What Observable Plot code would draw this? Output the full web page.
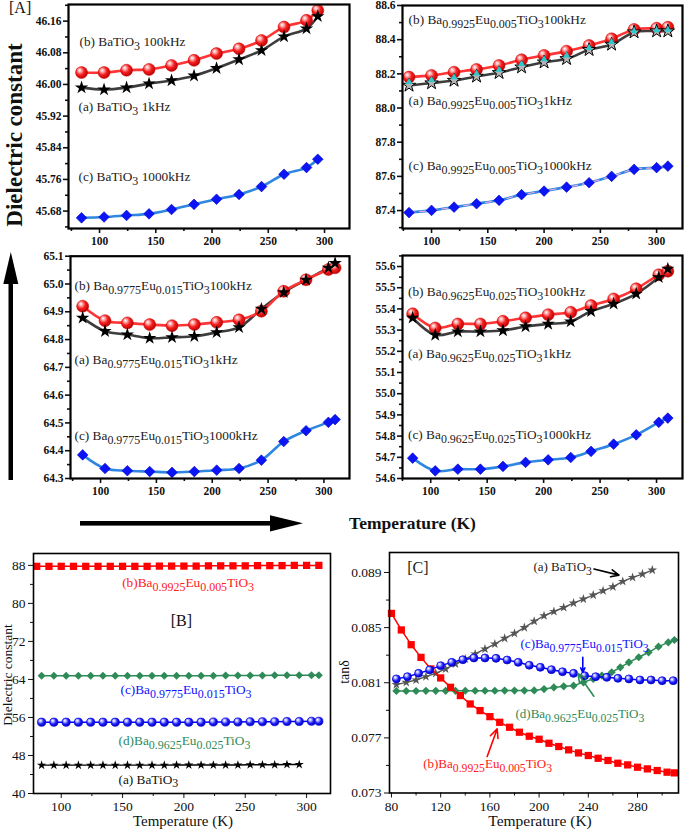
<!DOCTYPE html>
<html><head><meta charset="utf-8">
<script src="https://cdn.jsdelivr.net/npm/d3@7"></script>
<script src="https://cdn.jsdelivr.net/npm/@observablehq/plot@0.6"></script>
<style>
body{margin:0;background:#fff;}
#root{position:relative;width:685px;height:830px;overflow:hidden;font-family:'Liberation Serif',serif;background:#fff;}
#root text, #root tspan{font-family:'Liberation Serif',serif !important;}
</style></head><body><div id="root"></div>
<script>
// ---------------- DATA ----------------
// [A] panel 1 : BaTiO3
const tA1 = [84,104,124,144,164,184,204,224,244,264,284,294];
const a1_100k = [46.030,46.030,46.036,46.038,46.048,46.061,46.078,46.090,46.111,46.145,46.162,46.187];
const a1_1k   = [45.992,45.987,45.992,46.002,46.010,46.022,46.041,46.063,46.086,46.121,46.141,46.172];
const a1_1000k= [45.663,45.665,45.669,45.673,45.684,45.697,45.710,45.722,45.742,45.773,45.790,45.811];
// [A] panel 2 : Ba0.9925Eu0.005TiO3
const tA2 = [80,100,120,140,160,180,200,220,240,260,280,300,310];
const a2_100k = [88.181,88.191,88.210,88.226,88.249,88.282,88.308,88.333,88.366,88.405,88.460,88.467,88.473];
const a2_1k   = [88.132,88.146,88.161,88.185,88.206,88.239,88.268,88.288,88.341,88.372,88.444,88.450,88.450];
const a2_10k  = [88.152,88.164,88.180,88.202,88.224,88.258,88.285,88.308,88.352,88.386,88.450,88.455,88.458];
const a2_1000k= [87.388,87.401,87.420,87.440,87.460,87.493,87.514,87.537,87.563,87.600,87.641,87.651,87.660];
// [A] panel 3 : Ba0.9775Eu0.015TiO3
const tA3 = [84,104,124,144,164,184,204,224,244,264,284,304,310];
const a3_100k = [64.920,64.868,64.860,64.854,64.850,64.854,64.862,64.871,64.902,64.974,65.015,65.052,65.058];
const a3_1k   = [64.878,64.830,64.818,64.805,64.808,64.812,64.826,64.844,64.910,64.970,65.015,65.058,65.075];
const a3_1000k= [64.385,64.336,64.328,64.325,64.322,64.325,64.330,64.336,64.366,64.433,64.472,64.502,64.512];
// [A] panel 4 : Ba0.9625Eu0.025TiO3
const tA4 = [84,104,124,144,164,184,204,224,242,262,282,302,310];
const a4_100k = [55.377,55.310,55.329,55.329,55.342,55.358,55.373,55.384,55.416,55.447,55.495,55.561,55.578];
const a4_1k   = [55.358,55.277,55.293,55.293,55.298,55.317,55.329,55.340,55.389,55.424,55.471,55.549,55.589];
const a4_1000k= [54.696,54.636,54.644,54.644,54.657,54.676,54.688,54.699,54.728,54.762,54.806,54.865,54.885];
// [B] dielectric constant vs T
const tB_b = [80,90,100,110,120,130,140,150,160,170,180,190,200,210,220,230,240,250,260,270,280,290,300,310];
const eB_b = [87.8,87.8,87.8,87.8,87.8,87.8,87.8,87.8,87.8,87.8,87.85,87.85,87.85,87.85,87.9,87.9,87.9,87.9,87.95,87.95,87.95,88.0,88.0,88.0];
const tB_cd = [84,94,104,114,124,134,144,154,164,174,184,194,204,214,224,234,244,254,264,274,284,294,304,310];
const eB_c = [64.8,64.8,64.8,64.8,64.8,64.8,64.8,64.8,64.8,64.8,64.8,64.8,64.8,64.8,64.8,64.85,64.85,64.85,64.85,64.9,64.9,64.9,64.9,64.9];
const eB_d = [55.0,55.0,55.0,55.0,55.0,55.0,55.0,55.0,55.0,55.0,55.0,55.0,55.0,55.0,55.05,55.05,55.05,55.1,55.1,55.1,55.15,55.15,55.2,55.2];
const tB_a = [84,94,104,114,124,134,144,154,164,174,184,194,204,214,224,234,244,254,264,274,284,294];
const eB_a = [45.95,45.95,45.95,45.95,45.95,45.95,45.95,45.95,45.95,45.95,45.95,46.0,46.0,46.0,46.0,46.0,46.0,46.05,46.05,46.05,46.1,46.1];
// [C] tan delta vs T
const tC_a = [84,92,100,108,116,124,132,140,148,156,164,172,180,188,196,204,212,220,228,236,244,252,260,268,276,284,292];
const dC_a = [.08086,.08103,.08120,.08144,.08168,.08200,.08236,.08272,.08309,.08345,.08381,.08422,.08458,.08500,.08546,.08586,.08617,.08646,.08678,.08707,.08736,.08767,.08796,.08835,.08864,.08888,.08917];
const tC_b = [80,88,96,104,112,120,128,136,144,152,160,168,176,184,192,200,208,216,224,232,240,248,256,264,272,280,288,296,304,310];
const dC_b = [.08603,.08483,.08376,.08284,.08200,.08135,.08067,.08007,.07946,.07898,.07854,.07813,.07777,.07741,.07712,.07690,.07661,.07637,.07613,.07591,.07572,.07552,.07536,.07516,.07504,.07487,.07475,.07463,.07451,.07446];
const tC_c = [84,93,102,111,120,129,138,147,156,165,174,183,192,201,210,219,228,237,246,255,264,273,282,291,300,309];
const dC_c = [.08128,.08144,.08168,.08193,.08224,.08248,.08267,.08280,.08280,.08277,.08265,.08248,.08227,.08212,.08195,.08180,.08168,.08151,.08144,.08139,.08132,.08128,.08120,.08120,.08115,.08115];
const tC_d = [84,92,100,108,116,124,132,140,148,156,164,172,180,188,196,204,212,220,228,236,244,251,259,266,273,281,289,297,305,310];
const dC_d = [.08040,.08040,.08040,.08041,.08041,.08041,.08041,.08042,.08042,.08042,.08042,.08043,.08043,.08043,.08044,.08054,.08066,.08074,.08079,.08103,.08128,.08152,.08176,.08212,.08248,.08285,.08321,.08362,.08393,.08410];

// tick values
const xTicksA = [100,150,200,250,300], xMinorA = [75,125,175,225,275];
const yTicksA1 = [45.68,45.76,45.84,45.92,46.00,46.08,46.16], yMinorA1 = [45.64,45.72,45.80,45.88,45.96,46.04,46.12,46.20];
const yTicksA2 = [87.4,87.6,87.8,88.0,88.2,88.4,88.6], yMinorA2 = [87.3,87.5,87.7,87.9,88.1,88.3,88.5];
const yTicksA3 = [64.3,64.4,64.5,64.6,64.7,64.8,64.9,65.0,65.1], yMinorA3 = [64.35,64.45,64.55,64.65,64.75,64.85,64.95,65.05];
const yTicksA4 = [54.6,54.7,54.8,54.9,55.0,55.1,55.2,55.3,55.4,55.5,55.6], yMinorA4 = [54.65,54.75,54.85,54.95,55.05,55.15,55.25,55.35,55.45,55.55,55.65];
const xTicksB = [100,150,200,250,300], xMinorB = [125,175,225,275];
const yTicksB = [40,48,56,64,72,80,88], yMinorB = [44,52,60,68,76,84];
const xTicksC = [80,120,160,200,240,280], xMinorC = [100,140,180,220,260,300];
const yTicksC = [0.073,0.077,0.081,0.085,0.089], yMinorC = [0.075,0.079,0.083,0.087];

// ---------------- HELPERS ----------------
const root = document.getElementById("root");
const ns = "http://www.w3.org/2000/svg";
const SERIF = "'Liberation Serif', serif";
const zip = (xs, ys) => xs.map((x, i) => ({x, y: ys[i]}));

function defsMark(id) {
  return () => {
    const d = document.createElementNS(ns, "defs");
    d.innerHTML = `
    <radialGradient id="${id}R" cx="0.42" cy="0.4" r="0.62" fx="0.33" fy="0.3">
      <stop offset="0" stop-color="#ffffff"/><stop offset="0.22" stop-color="#ffb0b0"/>
      <stop offset="0.55" stop-color="#f52020"/><stop offset="1" stop-color="#b80000"/></radialGradient>
    <radialGradient id="${id}B" cx="0.42" cy="0.4" r="0.62" fx="0.33" fy="0.3">
      <stop offset="0" stop-color="#ffffff"/><stop offset="0.25" stop-color="#b8b8ff"/>
      <stop offset="0.6" stop-color="#2020ff"/><stop offset="1" stop-color="#0000b0"/></radialGradient>`;
    return d;
  };
}

function subscriptify(svg) {
  svg.querySelectorAll("text").forEach(t => {
    const s = t.textContent;
    if (!s.includes("{")) return;
    const fs = parseFloat(getComputedStyle(t).fontSize) || 13;
    const sh = fs * 0.3;
    t.textContent = "";
    let down = false;
    s.split(/(\{[^}]*\})/).forEach(p => {
      if (!p) return;
      const ts = document.createElementNS(ns, "tspan");
      if (p[0] === "{") {
        ts.textContent = p.slice(1, -1);
        ts.setAttribute("font-size", (fs * 0.9).toFixed(2));
        if (!down) ts.setAttribute("dy", sh.toFixed(2));
        down = true;
      } else {
        ts.textContent = p;
        if (down) ts.setAttribute("dy", (-sh).toFixed(2));
        down = false;
      }
      t.appendChild(ts);
    });
  });
}

function makePanel(c) {
  const sw = c.axisStroke;
  const tf = {fontFamily: SERIF, fontSize: c.tickFs, fontWeight: c.tickFw};
  const marks = [
    defsMark(c.id),
    Plot.axisX({ticks: c.xMinor, tickSize: 3, tickFormat: () => "", strokeWidth: sw, label: null}),
    Plot.axisX({ticks: c.xMajor, tickSize: 5, tickPadding: c.xPad, tickFormat: d => String(d), strokeWidth: sw, label: null, ...tf}),
    Plot.axisY({ticks: c.yMinor, tickSize: 3, tickFormat: () => "", strokeWidth: sw, label: null}),
    Plot.axisY({ticks: c.yMajor, tickSize: 5, tickPadding: c.yPad, tickFormat: c.yFormat, strokeWidth: sw, label: null, ...tf}),
    ...c.marks,
    Plot.frame({stroke: "#000", strokeWidth: c.frameW})
  ];
  const svg = Plot.plot({
    width: c.w, height: c.h,
    marginLeft: c.mL, marginRight: c.mR, marginTop: c.mT, marginBottom: c.mB,
    x: {domain: c.xDomain, label: null},
    y: {domain: c.yDomain, label: null},
    style: {fontFamily: SERIF, fontSize: c.tickFs + "px", fontWeight: c.tickFw, color: "#111", background: "transparent", overflow: "visible"},
    marks
  });
  svg.style.position = "absolute";
  svg.style.left = c.left + "px";
  svg.style.top = c.top + "px";
  root.appendChild(svg);
  subscriptify(svg);
}

const labelMarks = (labs, fs) => Plot.text(labs, {x: "x", y: "y", text: "t", fill: d => d.c || "#222", textAnchor: "start", fontSize: fs, fontWeight: "normal", fontFamily: SERIF});

function panelA(id, left, top, mL, mT, xDomain, yDomain, yMajor, yMinor, yFormat, t, s100, s1, s1000, labs, extra) {
  const red = zip(t, s100), blk = zip(t, s1), blu = zip(t, s1000);
  const hollow = !!extra;
  const marks = [
    Plot.line(blu, {x: "x", y: "y", stroke: "#2f86e0", strokeWidth: 2.6, curve: "catmull-rom"}),
    ...(hollow ? [Plot.line(blu, {x: "x", y: "y", stroke: "#f4a8e4", strokeWidth: 1.1, strokeDasharray: "6,5", curve: "catmull-rom"})] : []),
    Plot.line(blk, {x: "x", y: "y", stroke: "#3d3d3d", strokeWidth: 2.6, curve: "catmull-rom"}),
    Plot.line(red, {x: "x", y: "y", stroke: "#ff3535", strokeWidth: 2.6, curve: "catmull-rom"}),
    Plot.dot(blu, {x: "x", y: "y", symbol: "diamond2", r: 4.8, fill: "#0a14f5", stroke: "#0000c8", strokeWidth: 0.6}),
    Plot.dot(red, {x: "x", y: "y", r: 6, fill: `url(#${id}R)`, stroke: "#d00000", strokeWidth: 0.5}),
    Plot.dot(blk, {x: "x", y: "y", symbol: "star", r: 4.2, fill: hollow ? "#b5b5b5" : "#000", stroke: "#000", strokeWidth: hollow ? 1 : 0}),
    ...(hollow ? [Plot.dot(zip(t, extra), {x: "x", y: "y", symbol: "triangle", r: 2.6, fill: "#2cc9cf", stroke: "none"})] : []),
    labelMarks(labs, 13.3)
  ];
  makePanel({id, left, top, w: left === 0 ? 360 : 345, h: top === 0 ? 250 : 255,
    mL, mR: left === 0 ? 11 : 3, mT, mB: 22, xDomain, yDomain,
    xMajor: xTicksA, xMinor: xMinorA, yMajor, yMinor, yFormat,
    tickFs: 11.5, tickFw: "bold", axisStroke: 1.6, frameW: 2.2, xPad: 3, yPad: 2, marks});
}

// ---------------- PANELS [A] ----------------
panelA("p1", 0, 0, 68, 4, [72.4, 322.2], [45.636, 46.202], yTicksA1, yMinorA1, d3.format(".2f"),
  tA1, a1_100k, a1_1k, a1_1000k, [
    {x: 82.2, y: 46.109, t: "(b) BaTiO{3} 100kHz"},
    {x: 81.3, y: 45.943, t: "(a) BaTiO{3} 1kHz"},
    {x: 81.3, y: 45.766, t: "(c) BaTiO{3} 1000kHz"}]);
panelA("p2", 340, 0, 62, 5, [74.2, 323], [87.295, 88.6], yTicksA2, yMinorA2, d3.format(".1f"),
  tA2, a2_100k, a2_1k, a2_1000k, [
    {x: 79.6, y: 88.518, t: "(b) Ba{0.9925}Eu{0.005}TiO{3}100kHz"},
    {x: 79.6, y: 88.040, t: "(a) Ba{0.9925}Eu{0.005}TiO{3}1kHz"},
    {x: 79.6, y: 87.664, t: "(c) Ba{0.9925}Eu{0.005}TiO{3}1000kHz"}], a2_10k);
panelA("p3", 0, 245, 70, 10.7, [73.1, 322.9], [64.3, 65.1], yTicksA3, yMinorA3, d3.format(".1f"),
  tA3, a3_100k, a3_1k, a3_1000k, [
    {x: 76.7, y: 64.994, t: "(b) Ba{0.9775}Eu{0.015}TiO{3}100kHz"},
    {x: 76.7, y: 64.728, t: "(a) Ba{0.9775}Eu{0.015}TiO{3}1kHz"},
    {x: 76.7, y: 64.454, t: "(c) Ba{0.9775}Eu{0.015}TiO{3}1000kHz"}]);
panelA("p4", 340, 245, 62, 10, [75, 323], [54.6, 55.652], yTicksA4, yMinorA4, d3.format(".1f"),
  tA4, a4_100k, a4_1k, a4_1000k, [
    {x: 79.9, y: 55.479, t: "(b) Ba{0.9625}Eu{0.025}TiO{3}100kHz"},
    {x: 79.9, y: 55.189, t: "(a) Ba{0.9625}Eu{0.025}TiO{3}1kHz"},
    {x: 79.9, y: 54.806, t: "(c) Ba{0.9625}Eu{0.025}TiO{3}1000kHz"}]);

// ---------------- PANEL [B] ----------------
{
  const r = zip(tB_b, eB_b), g = zip(tB_cd, eB_c), b = zip(tB_cd, eB_d), k = zip(tB_a, eB_a);
  makePanel({id: "pB", left: 0, top: 540, w: 345, h: 290, mL: 33, mR: 15, mT: 13, mB: 37,
    xDomain: [77.4, 319.5], yDomain: [40, 90.5],
    xMajor: xTicksB, xMinor: xMinorB, yMajor: yTicksB, yMinor: yMinorB, yFormat: d => String(d),
    tickFs: 13.5, tickFw: "normal", axisStroke: 1, frameW: 1.6, xPad: 3, yPad: 3,
    marks: [
      Plot.line(k, {x: "x", y: "y", stroke: "#000", strokeWidth: 1.3}),
      Plot.dot(k, {x: "x", y: "y", symbol: "star", r: 2.9, fill: "#000"}),
      Plot.line(b, {x: "x", y: "y", stroke: "#0000ff", strokeWidth: 1.5}),
      Plot.dot(b, {x: "x", y: "y", r: 4.1, fill: "url(#pBB)", stroke: "#0000e0", strokeWidth: 0.7}),
      Plot.line(g, {x: "x", y: "y", stroke: "#2e8b57", strokeWidth: 1.5}),
      Plot.dot(g, {x: "x", y: "y", symbol: "diamond2", r: 3.6, fill: "#2e8b57"}),
      Plot.line(r, {x: "x", y: "y", stroke: "#ff0000", strokeWidth: 1.5}),
      Plot.dot(r, {x: "x", y: "y", symbol: "square", r: 4.1, fill: "#ff0000"}),
      labelMarks([
        {x: 149.7, y: 84.3, t: "(b)Ba{0.9925}Eu{0.005}TiO{3}", c: "#ff2020"},
        {x: 148.3, y: 61.9, t: "(c)Ba{0.9775}Eu{0.015}TiO{3}", c: "#1010ff"},
        {x: 146.7, y: 51.1, t: "(d)Ba{0.9625}Eu{0.025}TiO{3}", c: "#2e8b57"},
        {x: 146.7, y: 43.0, t: "(a) BaTiO{3}", c: "#111"}], 13.3),
      Plot.text([{x: 198, y: 76.4, t: "[B]"}], {x: "x", y: "y", text: "t", fontSize: 16, fontWeight: "normal", fontFamily: SERIF, fill: "#111"})
    ]});
}

// ---------------- PANEL [C] ----------------
{
  const a = zip(tC_a, dC_a), bb = zip(tC_b, dC_b), cc = zip(tC_c, dC_c), dd = zip(tC_d, dC_d);
  const arrows = [
    {x1: 244.6, y1: 0.08925, x2: 264.9, y2: 0.08881, c: "#000"},
    {x1: 235.5, y1: 0.08284, x2: 235.5, y2: 0.08175, c: "#0000ff"},
    {x1: 244.5, y1: 0.08002, x2: 231.5, y2: 0.08167, c: "#2e8b57"},
    {x1: 157.8, y1: 0.07565, x2: 165.9, y2: 0.07765, c: "#ff0000"}];
  makePanel({id: "pC", left: 345, top: 540, w: 340, h: 290, mL: 44, mR: 7, mT: 12, mB: 37.5,
    xDomain: [78.4, 313.3], yDomain: [0.073, 0.09045],
    xMajor: xTicksC, xMinor: xMinorC, yMajor: yTicksC, yMinor: yMinorC, yFormat: d3.format(".3f"),
    tickFs: 13.5, tickFw: "normal", axisStroke: 1, frameW: 1.6, xPad: 3, yPad: 3,
    marks: [
      Plot.line(a, {x: "x", y: "y", stroke: "#555", strokeWidth: 1.4}),
      Plot.dot(a, {x: "x", y: "y", symbol: "star", r: 3, fill: "#555"}),
      Plot.line(dd, {x: "x", y: "y", stroke: "#2e8b57", strokeWidth: 1.5}),
      Plot.dot(dd, {x: "x", y: "y", symbol: "diamond2", r: 3.7, fill: "#2e8b57"}),
      Plot.line(bb, {x: "x", y: "y", stroke: "#ff0000", strokeWidth: 1.5}),
      Plot.dot(bb, {x: "x", y: "y", symbol: "square", r: 4.1, fill: "#ff0000"}),
      Plot.line(cc, {x: "x", y: "y", stroke: "#0000ff", strokeWidth: 1.5}),
      Plot.dot(cc, {x: "x", y: "y", r: 4, fill: "url(#pCB)", stroke: "#0000e0", strokeWidth: 0.7}),
      Plot.arrow(arrows, {x1: "x1", y1: "y1", x2: "x2", y2: "y2", stroke: d => d.c, strokeWidth: 1.6, headLength: 9, headAngle: 50}),
      labelMarks([
        {x: 195.4, y: 0.08941, t: "(a) BaTiO{3}", c: "#222"},
        {x: 184.9, y: 0.08383, t: "(c)Ba{0.9775}Eu{0.015}TiO{3}", c: "#1010ff"},
        {x: 180.8, y: 0.07876, t: "(d)Ba{0.9625}Eu{0.025}TiO{3}", c: "#2e8b57"},
        {x: 105.8, y: 0.07514, t: "(b)Ba{0.9925}Eu{0.005}TiO{3}", c: "#ff2020"}], 13),
      Plot.text([{x: 92.8, y: 0.08936, t: "[C]"}], {x: "x", y: "y", text: "t", textAnchor: "start", fontSize: 16, fontWeight: "normal", fontFamily: SERIF, fill: "#222"})
    ]});
}

// ---------------- OVERLAY (titles, big arrows) ----------------
const ov = document.createElementNS(ns, "svg");
ov.setAttribute("width", 685); ov.setAttribute("height", 830);
ov.style.cssText = "position:absolute;left:0;top:0;pointer-events:none;overflow:visible";
ov.innerHTML = `
<g fill="#111">
  <text x="9" y="13" font-size="16">[A]</text>
  <text transform="translate(22,135) rotate(-90)" text-anchor="middle" font-weight="bold" font-size="23">Dielectric constant</text>
  <rect x="8.5" y="280" width="4.5" height="200" fill="#000"/>
  <polygon points="10.8,252 3.3,284 18.3,284" fill="#000"/>
  <rect x="80" y="521" width="192" height="4.6" fill="#000"/>
  <polygon points="303,523.3 270,515.3 270,531.5" fill="#000"/>
  <text x="412.5" y="529" text-anchor="middle" font-weight="bold" font-size="17.5">Temperature (K)</text>
  <text transform="translate(11.5,675) rotate(-90)" text-anchor="middle" font-size="13.5">Dielectric constant</text>
  <text x="183" y="826" text-anchor="middle" font-size="15">Temperature (K)</text>
  <text transform="translate(349,672) rotate(-90)" text-anchor="middle" font-size="14">tanδ</text>
  <text x="540" y="826" text-anchor="middle" font-size="15.5">Temperature (K)</text>
</g>`;
root.appendChild(ov);
</script>
</body></html>
